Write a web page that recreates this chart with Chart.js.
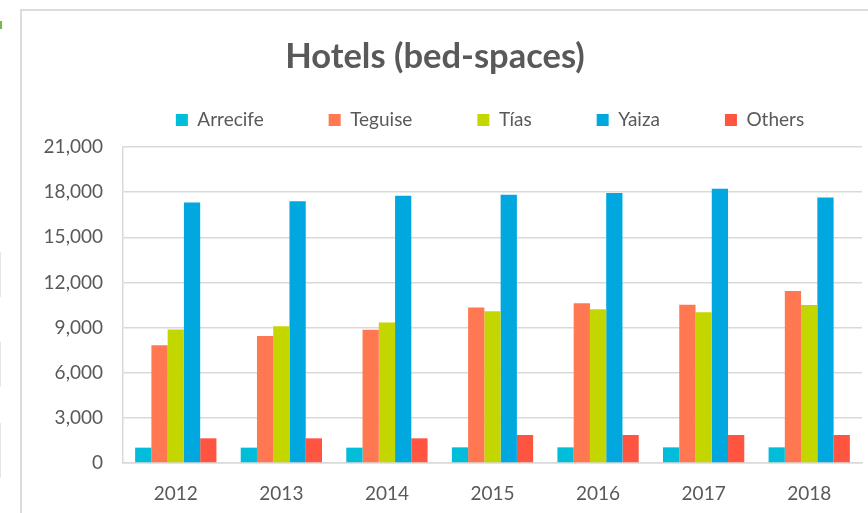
<!DOCTYPE html>
<html>
<head>
<meta charset="utf-8">
<script src="https://cdn.jsdelivr.net/npm/chart.js@4/dist/chart.umd.min.js"></script>
<style>
  html, body { margin: 0; padding: 0; background: #fff; }
  body { width: 868px; height: 513px; position: relative; overflow: hidden; }
  .card { position: absolute; left: 20px; top: 9px; width: 900px; height: 600px;
          border-top: 2px solid #dcdcdc; border-left: 2px solid #dcdcdc; }
  .mark { position: absolute; left: 0; width: 1px; background: #e6e6e6; }
  #myChart { position: absolute; left: 0; top: 0; }
</style>
</head>
<body>
<div class="card"></div>
<div class="mark" style="top:21px;height:8px;width:2px;background:#7ab648"></div>
<div class="mark" style="top:252px;height:45px"></div>
<div class="mark" style="top:342px;height:45px"></div>
<div class="mark" style="top:423px;height:55px"></div>
<canvas id="myChart" width="868" height="513"></canvas>
<script>
const years = ['2012', '2013', '2014', '2015', '2016', '2017', '2018'];
const arrecife = [1020, 1020, 1020, 1040, 1040, 1040, 1040];
const teguise = [7820, 8440, 8860, 10340, 10610, 10520, 11430];
const tias = [8880, 9080, 9330, 10080, 10210, 10010, 10500];
const yaiza = [17320, 17390, 17760, 17830, 17940, 18230, 17650];
const others = [1640, 1640, 1640, 1860, 1860, 1860, 1860];
const yTicks = [0, 3000, 6000, 9000, 12000, 15000, 18000, 21000];

const grey = '#595959';
const gridColor = '#d9d9d9';

// nudges the legend / title so they sit where the Excel ones do
const placeBoxes = {
  id: 'placeBoxes',
  afterInit(chart) {
    const lg = chart.legend;
    const fit = lg.fit;
    lg.fit = function () { fit.call(this); this.height = 69.6; };
  },
  afterLayout(chart) {
    const lg = chart.legend;
    lg.top -= 32;
    lg.left += 59; lg.right += 59;
    const t = chart.titleBlock;
    if (t) { t.left += 4; t.right += 4; }
  }
};

const ctx = document.getElementById('myChart');

const chart = new Chart(ctx, {
  type: 'bar',
  data: {
    labels: years,
    datasets: [
      { label: 'Arrecife', data: arrecife, backgroundColor: '#00bdd9' },
      { label: 'Teguise', data: teguise, backgroundColor: '#ff7851' },
      { label: 'Tías', data: tias, backgroundColor: '#c4d600' },
      { label: 'Yaiza', data: yaiza, backgroundColor: '#00a8df' },
      { label: 'Others', data: others, backgroundColor: '#ff5540' }
    ]
  },
  options: {
    responsive: false,
    animation: false,
    layout: { padding: { left: 0, right: 6, top: 0, bottom: 0 } },
    datasets: {
      bar: { categoryPercentage: 0.77, barPercentage: 1.0, borderWidth: 0 }
    },
    plugins: {
      title: {
        display: true,
        text: 'Hotels (bed-spaces)',
        color: grey,
        font: { family: 'Lato', size: 34.5, weight: 'bold' },
        padding: { top: 36, bottom: 0 },
        fullSize: true
      },
      legend: {
        display: true,
        labels: {
          color: grey,
          font: { family: 'Lato', size: 19 },
          boxWidth: 12,
          boxHeight: 12,
          padding: 65
        }
      },
      tooltip: { enabled: false }
    },
    scales: {
      x: {
        grid: { display: false },
        border: { display: true, color: gridColor, width: 1.5 },
        ticks: { color: grey, font: { family: 'Lato', size: 19 }, padding: 11 },
        afterFit(scale) { scale.height = 50; }
      },
      y: {
        min: 0,
        max: 21000,
        afterBuildTicks(scale) { scale.ticks = yTicks.map(v => ({ value: v })); },
        grid: { color: gridColor, lineWidth: 1.5, drawTicks: false },
        border: { display: true, color: gridColor, width: 1.5 },
        ticks: {
          color: grey,
          font: { family: 'Lato', size: 19 },
          padding: 20,
          callback: v => v.toLocaleString('en-US')
        },
        afterFit(scale) { scale.width = 123; }
      }
    }
  },
  plugins: [placeBoxes]
});
</script>
</body>
</html>
